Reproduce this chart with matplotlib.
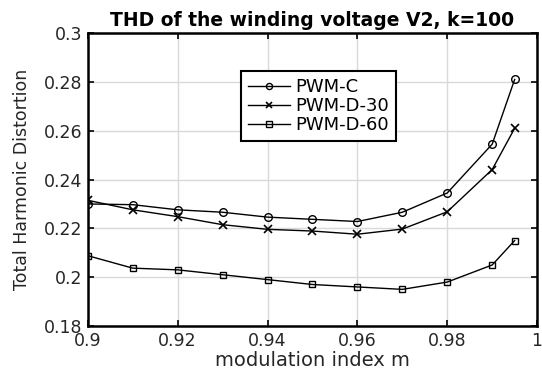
import numpy as np
import matplotlib
matplotlib.use("Agg")
import matplotlib.pyplot as plt

plt.rcParams['font.family'] = ['DejaVu Sans']

m = [0.9, 0.91, 0.92, 0.93, 0.94, 0.95, 0.96, 0.97, 0.98, 0.99, 0.995]
thd_c = [0.230, 0.2297, 0.2276, 0.2266, 0.2246, 0.2237, 0.2228, 0.2266, 0.2345, 0.2545, 0.281]
thd_d30 = [0.2315, 0.2276, 0.2248, 0.2215, 0.2196, 0.2189, 0.2176, 0.2197, 0.2268, 0.2441, 0.261]
thd_d60 = [0.2088, 0.2037, 0.2030, 0.2010, 0.1990, 0.1970, 0.1960, 0.1950, 0.1980, 0.2050, 0.2150]

xticks = [0.9, 0.92, 0.94, 0.96, 0.98, 1.0]
xlabels = ["0.9", "0.92", "0.94", "0.96", "0.98", "1"]
yticks = [0.18, 0.2, 0.22, 0.24, 0.26, 0.28, 0.3]
ylabels = ["0.18", "0.2", "0.22", "0.24", "0.26", "0.28", "0.3"]

fig = plt.figure(figsize=(5.42, 3.76), dpi=100)
ax = fig.add_axes([0.162, 0.133, 0.829, 0.779])

ax.plot(m, thd_c, 'k-o', lw=1, ms=5.5, mfc='none', mew=1, label='PWM-C')
ax.plot(m, thd_d30, 'k-x', lw=1, ms=6, mew=1.2, label='PWM-D-30')
ax.plot(m, thd_d60, 'k-s', lw=1, ms=5, mfc='none', mew=1, label='PWM-D-60')

ax.set_xlim(0.9, 1.0)
ax.set_ylim(0.18, 0.3)
ax.set_xticks(xticks)
ax.set_xticklabels(xlabels)
ax.set_yticks(yticks)
ax.set_yticklabels(ylabels)
ax.tick_params(direction='in', labelsize=12.5, length=4, width=1.2, top=True, right=True,
               pad=4, labelcolor='#262626')
ax.grid(True, color='#d9d9d9', lw=1)
ax.set_axisbelow(True)
for s in ax.spines.values():
    s.set_linewidth(1.8)

ax.set_title("THD of the winding voltage V2, k=100", fontsize=13.5, fontweight='bold', pad=5)
ax.set_xlabel("modulation index m", fontsize=14, labelpad=1, color='#262626')
ax.set_ylabel("Total Harmonic Distortion", fontsize=12.5, labelpad=9, color='#262626')

leg = ax.legend(loc='upper left', bbox_to_anchor=(0.3415, 0.871), fontsize=13,
                fancybox=False, framealpha=1, edgecolor='black', borderaxespad=0,
                handlelength=2.3, borderpad=0.4, labelspacing=0.05, handletextpad=0.3,
                markerscale=0.8)
leg.get_frame().set_linewidth(1.5)

fig.savefig("out.png", dpi=100)
